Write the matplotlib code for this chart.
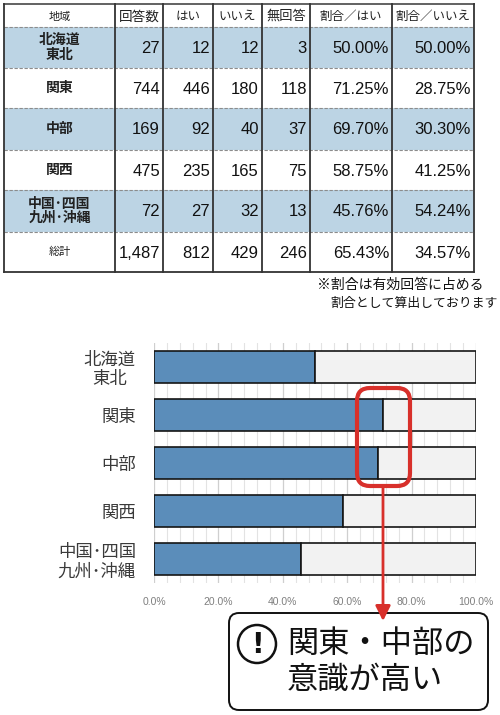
import matplotlib
matplotlib.use("Agg")
import matplotlib.pyplot as plt
from matplotlib.patches import FancyBboxPatch, Rectangle, Circle
from matplotlib.ticker import MultipleLocator, FuncFormatter

plt.rcParams['font.family'] = ['Noto Sans CJK JP', 'DejaVu Sans']

# ---------------- data ----------------
headers = ['地域', '回答数', 'はい', 'いいえ', '無回答', '割合／はい', '割合／いいえ']
regions = ['北海道\n東北', '関東', '中部', '関西', '中国･四国\n九州･沖縄']
answers = [27, 744, 169, 475, 72]
yes = [12, 446, 92, 235, 27]
no = [12, 180, 40, 165, 32]
noans = [3, 118, 37, 75, 13]
pct_yes = [50.00, 71.25, 69.70, 58.75, 45.76]
pct_no = [50.00, 28.75, 30.30, 41.25, 54.24]
total_label = '総計'
total_vals = [1487, 812, 429, 246]
total_pct = [65.43, 34.57]
note_lines = ['※割合は有効回答に占める', '割合として算出しております']
callout = '関東・中部の\n意識が高い'

W, H = 500, 715
fig = plt.figure(figsize=(W / 100, H / 100), dpi=100)

# overlay axes in pixel coordinates
ov = fig.add_axes([0, 0, 1, 1])
ov.set_xlim(0, W)
ov.set_ylim(H, 0)
ov.axis('off')
ov.set_zorder(3)
ov.patch.set_alpha(0)

# ---------------- table ----------------
col_x = [4, 115, 163, 213, 262, 310, 392, 474]
row_y = [4, 27, 68, 108, 150, 190, 232, 272]
blue_row = '#bcd4e4'
num_font = ['Liberation Sans', 'Noto Sans CJK JP']

for r in range(7):
    y0, y1 = row_y[r], row_y[r + 1]
    if r in (1, 3, 5):
        ov.add_patch(Rectangle((col_x[0], y0), col_x[-1] - col_x[0], y1 - y0,
                               facecolor=blue_row, edgecolor='none', zorder=1))

for yy in row_y[1:-1]:
    ov.plot([col_x[0], col_x[-1]], [yy, yy], color='#8c8c8c', lw=0.8,
            ls=(0, (3, 1.5)), zorder=2)
ov.plot([col_x[0], col_x[-1]], [row_y[0], row_y[0]], color='#555555', lw=1.3, zorder=3)
ov.plot([col_x[0], col_x[-1]], [row_y[-1], row_y[-1]], color='#333333', lw=1.3, zorder=3)
for xx in col_x:
    ov.plot([xx, xx], [row_y[0], row_y[-1]], color='#333333', lw=1.3, zorder=3)

hsizes = [8, 9.8, 9, 9, 9.5, 9, 9]
for c, h in enumerate(headers):
    cx = (col_x[c] + col_x[c + 1]) / 2
    ov.text(cx, (row_y[0] + row_y[1]) / 2 + 1, h, ha='center', va='center',
            fontsize=hsizes[c], color='#222222', zorder=4)

for i, reg in enumerate(regions):
    yc = (row_y[i + 1] + row_y[i + 2]) / 2
    cx = (col_x[0] + col_x[1]) / 2
    ov.text(cx, yc, reg, ha='center', va='center', fontsize=10, fontweight='bold',
            color='#222222', linespacing=1.05, multialignment='center', zorder=4)
    vals = [f'{answers[i]:,}', f'{yes[i]:,}', f'{no[i]:,}', f'{noans[i]:,}',
            f'{pct_yes[i]:.2f}%', f'{pct_no[i]:.2f}%']
    for c, v in enumerate(vals):
        ov.text(col_x[c + 2] - 3, yc + 1, v, ha='right', va='center', fontsize=12,
                family=num_font, color='#111111', zorder=4)

yc = (row_y[6] + row_y[7]) / 2
ov.text((col_x[0] + col_x[1]) / 2, yc, total_label, ha='center', va='center',
        fontsize=8, color='#222222', zorder=4)
tvals = [f'{v:,}' for v in total_vals] + [f'{p:.2f}%' for p in total_pct]
for c, v in enumerate(tvals):
    ov.text(col_x[c + 2] - 3, yc + 1, v, ha='right', va='center', fontsize=12,
            family=num_font, color='#111111', zorder=4)

ov.text(317, 285, note_lines[0], ha='left', va='center', fontsize=10, color='#111111')
ov.text(330, 303, note_lines[1], ha='left', va='center', fontsize=9.3, color='#111111')

# ---------------- bar chart ----------------
ax = fig.add_axes([154 / W, 1 - 583 / H, (476 - 154) / W, (583 - 343) / H])
ypos = list(range(len(regions)))
ax.barh(ypos, pct_yes, height=0.65, color='#5b8dba', edgecolor='#151515',
        linewidth=1.2, zorder=3)
ax.barh(ypos, pct_no, left=pct_yes, height=0.65, color='#f2f2f2',
        edgecolor='#151515', linewidth=1.2, zorder=3)
ax.set_xlim(0, 100)
ax.set_ylim(len(regions) - 0.5, -0.5)
ax.set_yticks(ypos)
ax.set_yticklabels(regions, fontsize=12.5, color='#3a3a3a', linespacing=1.1,
                   multialignment='center')
ax.xaxis.set_major_locator(MultipleLocator(20))
ax.xaxis.set_minor_locator(MultipleLocator(4))
ax.xaxis.set_major_formatter(FuncFormatter(lambda v, p: f'{v:.1f}%'))
ax.tick_params(axis='x', which='both', length=0, labelsize=7.5,
               labelcolor='#7f7f7f', pad=10)
ax.tick_params(axis='y', length=0, pad=13)
for lab in ax.get_xticklabels():
    lab.set_family(num_font)
ax.grid(axis='x', which='major', color='#cfcfcf', lw=0.9, zorder=0)
ax.grid(axis='x', which='minor', color='#e3e3e3', lw=0.8, zorder=0)
for s in ax.spines.values():
    s.set_visible(False)

# ---------------- annotations ----------------
red = '#d8302b'
ov.add_patch(FancyBboxPatch((357, 388), 53, 98, boxstyle='round,pad=0,rounding_size=13',
                            facecolor='none', edgecolor=red, lw=3.0, zorder=5))
ov.annotate('', xy=(383, 621), xytext=(383, 487),
            arrowprops=dict(arrowstyle='-|>,head_length=0.9,head_width=0.45',
                            color=red, lw=2.0, shrinkA=0, shrinkB=0), zorder=5)

ov.add_patch(FancyBboxPatch((229, 613), 259, 97, boxstyle='round,pad=0,rounding_size=10',
                            facecolor='white', edgecolor='#111111', lw=1.4, zorder=4))
ov.add_patch(Circle((257, 644), 19, facecolor='none', edgecolor='#111111', lw=1.8, zorder=6))
ov.text(257, 645, '!', ha='center', va='center', fontsize=20, fontweight='bold',
        color='#111111', family=['DejaVu Sans'], zorder=6)
ov.text(287, 662, callout, ha='left', va='center', fontsize=22.5, color='#111111',
        linespacing=1.15, zorder=6)

fig.savefig('out.png', dpi=100)
